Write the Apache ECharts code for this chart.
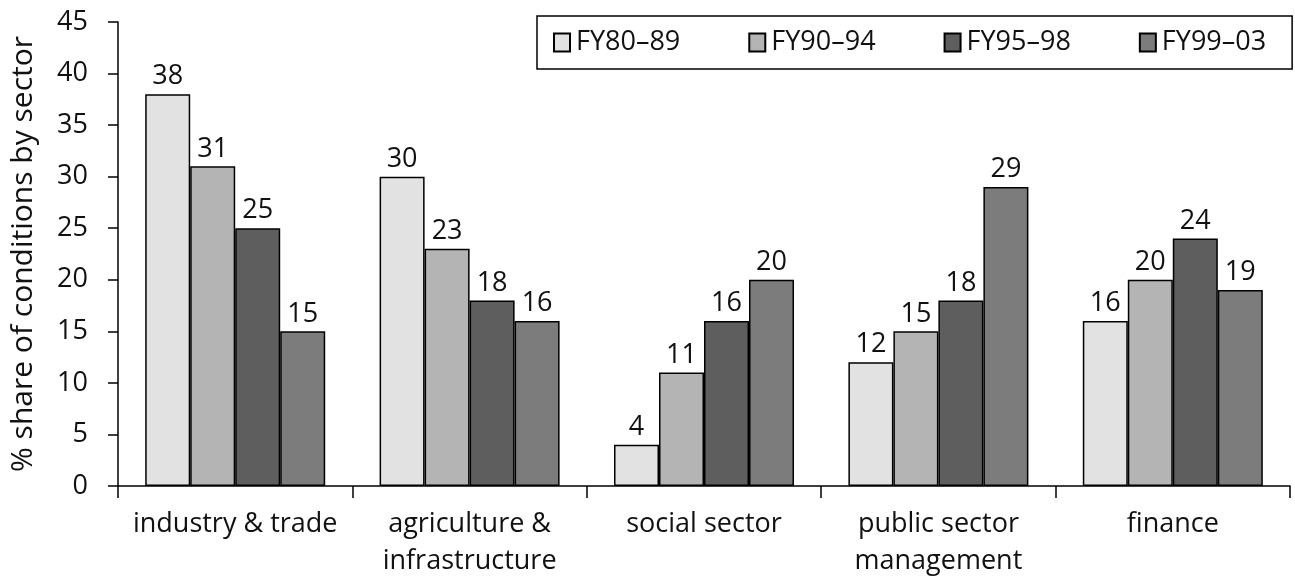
<!DOCTYPE html>
<html>
<head>
<meta charset="utf-8">
<script src="https://cdn.jsdelivr.net/npm/echarts@6/dist/echarts.min.js"></script>
<style>html,body{margin:0;padding:0;background:#fff;}#c{width:1295px;height:580px;}</style>
</head>
<body>
<div id="c"></div>
<script>
const categories = ['industry & trade', 'agriculture &\ninfrastructure', 'social sector', 'public sector\nmanagement', 'finance'];
const seriesNames = ['FY80\u201389', 'FY90\u201394', 'FY95\u201398', 'FY99\u201303'];
const fy8089 = [38, 30, 4, 12, 16];
const fy9094 = [31, 23, 11, 15, 20];
const fy9598 = [25, 18, 16, 18, 24];
const fy9903 = [15, 16, 20, 29, 19];
const yTicks = [0, 5, 10, 15, 20, 25, 30, 35, 40, 45];
const colors = ['#e2e2e2', '#b4b4b4', '#5e5e5e', '#7c7c7c'];
const values = [fy8089, fy9094, fy9598, fy9903];
const FONT = '"Open Sans", Lato, sans-serif';

const chart = echarts.init(document.getElementById('c'));
chart.setOption({
  animation: false,
  textStyle: { fontFamily: FONT, color: '#111' },
  grid: { left: 118, right: 5, top: 22, bottom: 94, containLabel: false },
  legend: {
    left: 537, top: 16,
    padding: [13, 26, 13, 16],
    itemGap: 68,
    borderColor: '#000', borderWidth: 1.5,
    itemWidth: 16, itemHeight: 18,
    textStyle: { fontFamily: FONT, fontSize: 27, color: '#111', padding: [0, 0, 0, 1] },
    data: seriesNames.map(n => ({ name: n, icon: 'rect' }))
  },
  xAxis: {
    type: 'category',
    data: categories,
    axisLine: { lineStyle: { color: '#000', width: 1.5 } },
    axisTick: { show: true, length: 12, alignWithLabel: false, lineStyle: { color: '#000', width: 1.5 } },
    axisLabel: { interval: 0, fontSize: 27, color: '#111', margin: 20, lineHeight: 37, fontFamily: FONT }
  },
  yAxis: {
    type: 'value',
    min: 0, max: 45, interval: 5,
    name: '% share of conditions by sector',
    nameLocation: 'middle',
    nameGap: 80,
    nameTextStyle: { fontSize: 30, color: '#111', fontFamily: FONT },
    axisLine: { show: true, lineStyle: { color: '#000', width: 1.5 } },
    axisTick: { show: true, length: 10, lineStyle: { color: '#000', width: 1.5 } },
    axisLabel: { fontSize: 27, color: '#111', margin: 30, fontFamily: FONT,
      formatter: v => yTicks.includes(v) ? String(v) : '' },
    splitLine: { show: false }
  },
  series: seriesNames.map((n, i) => ({
    name: n,
    type: 'bar',
    data: values[i],
    barWidth: 45,
    barGap: '0%',
    itemStyle: { color: colors[i], borderColor: '#000', borderWidth: 1.5 },
    label: { show: true, position: 'top', distance: 4, fontSize: 27, color: '#111', fontFamily: FONT }
  }))
});
</script>
</body>
</html>
